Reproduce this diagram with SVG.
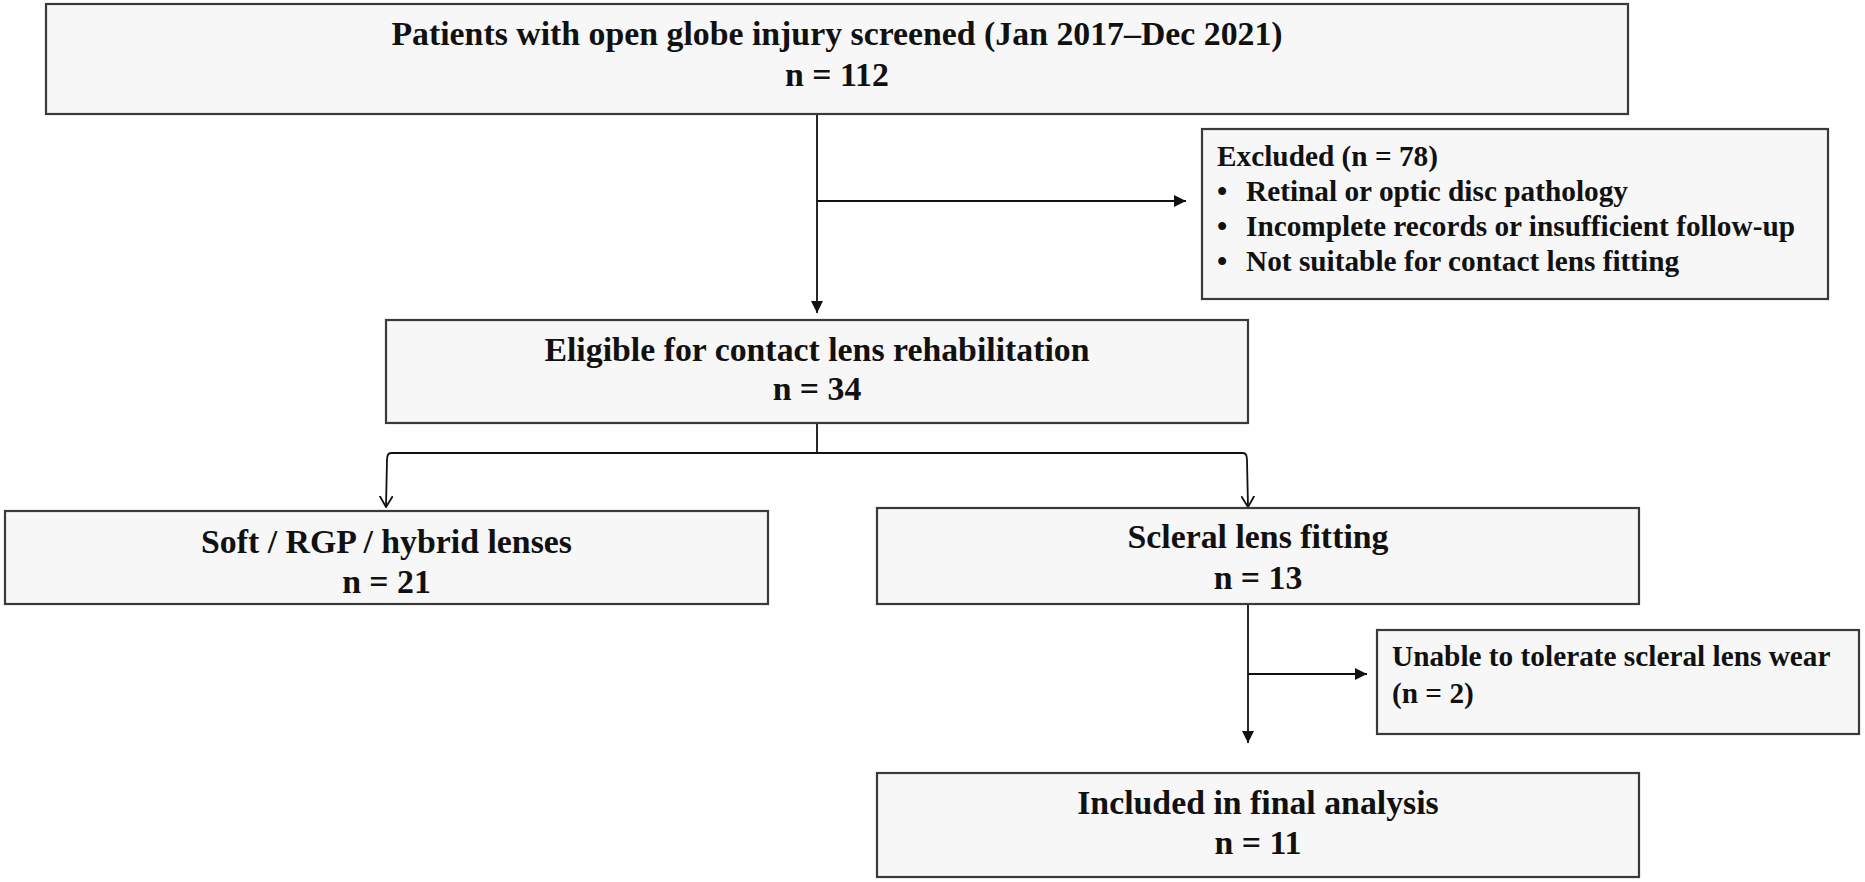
<svg xmlns="http://www.w3.org/2000/svg" width="1865" height="882" viewBox="0 0 1865 882">
<defs>
<style>
.box{fill:#f7f7f7;stroke:#3a3a3a;stroke-width:2.2}
.t{font-family:"Liberation Serif","Times New Roman",serif;font-weight:bold;fill:#111}
.big{font-size:33.8px;text-anchor:middle}
.sm{font-size:29.3px}
.ln{fill:none;stroke:#111;stroke-width:1.8}
</style>
<marker id="fa" viewBox="0 0 12 12" refX="12" refY="6" markerWidth="12" markerHeight="12" markerUnits="userSpaceOnUse" orient="auto">
<path d="M0,0 L12,6 L0,12 Z" fill="#111"/>
</marker>
<marker id="oa" viewBox="0 0 12 14" refX="11" refY="7" markerWidth="12" markerHeight="14" markerUnits="userSpaceOnUse" orient="auto">
<path d="M0,0.5 L11,7 L0,13.5" fill="none" stroke="#111" stroke-width="1.8"/>
</marker>
</defs>
<rect width="1865" height="882" fill="#ffffff"/>
<g id="connectors">
<line class="ln" x1="817" y1="114" x2="817" y2="313" marker-end="url(#fa)"/>
<line class="ln" x1="817" y1="201" x2="1186" y2="201" marker-end="url(#fa)"/>
<line class="ln" x1="817" y1="423" x2="817" y2="453"/>
<path class="ln" d="M1243,453 L391,453 Q387,453 387,460 L386,507" marker-end="url(#oa)"/>
<path class="ln" d="M1243,453 Q1247,453 1247,460 L1248,507" marker-end="url(#oa)"/>
<line class="ln" x1="1248" y1="604" x2="1248" y2="743" marker-end="url(#fa)"/>
<line class="ln" x1="1248" y1="674" x2="1367" y2="674" marker-end="url(#fa)"/>
</g>
<g id="screened">
<rect class="box" x="46" y="4" width="1582" height="110"/>
<text class="t big" x="837" y="45">Patients with open globe injury screened (Jan 2017–Dec 2021)</text>
<text class="t big" x="837" y="86">n = 112</text>
</g>
<g id="excluded">
<rect class="box" x="1202" y="129" width="626" height="170"/>
<text class="t sm" x="1217" y="166">Excluded (n = 78)</text>
<text class="t sm" x="1217" y="201">•<tspan x="1246">Retinal or optic disc pathology</tspan></text>
<text class="t sm" x="1217" y="236">•<tspan x="1246">Incomplete records or insufficient follow-up</tspan></text>
<text class="t sm" x="1217" y="271">•<tspan x="1246">Not suitable for contact lens fitting</tspan></text>
</g>
<g id="eligible">
<rect class="box" x="386" y="320" width="862" height="103"/>
<text class="t big" x="817" y="361">Eligible for contact lens rehabilitation</text>
<text class="t big" x="817" y="400">n = 34</text>
</g>
<g id="soft">
<rect class="box" x="5" y="511" width="763" height="93"/>
<text class="t big" x="386.5" y="553">Soft / RGP / hybrid lenses</text>
<text class="t big" x="386.5" y="593">n = 21</text>
</g>
<g id="scleral">
<rect class="box" x="877" y="508" width="762" height="96"/>
<text class="t big" x="1258" y="548">Scleral lens fitting</text>
<text class="t big" x="1258" y="589">n = 13</text>
</g>
<g id="unable">
<rect class="box" x="1377" y="630" width="482" height="104"/>
<text class="t sm" x="1392" y="666">Unable to tolerate scleral lens wear</text>
<text class="t sm" x="1392" y="703">(n = 2)</text>
</g>
<g id="included">
<rect class="box" x="877" y="773" width="762" height="104"/>
<text class="t big" x="1258" y="814">Included in final analysis</text>
<text class="t big" x="1258" y="854">n = 11</text>
</g>
</svg>
